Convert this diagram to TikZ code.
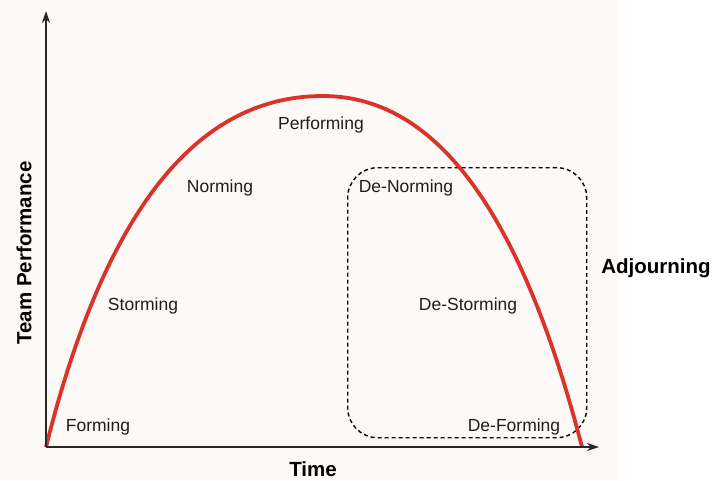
\documentclass[tikz,border=0pt]{standalone}
\usepackage{fontspec}
\setmainfont{Liberation Sans}
\usetikzlibrary{arrows.meta}
\definecolor{curvered}{RGB}{218,52,42}
\definecolor{axisgray}{RGB}{40,40,40}
\definecolor{bgwarm}{RGB}{252,249,247}
\definecolor{txt}{RGB}{30,30,30}
\tikzset{
  axisline/.style={draw=axisgray, line width=1.2pt, -{Stealth[length=12pt,width=8pt]}},
  stagelabel/.style={font=\fontsize{17.5}{20}\selectfont, text=txt, inner sep=0pt},
  boldlabel/.style={font=\bfseries\fontsize{20.5}{24}\selectfont, text=black, inner sep=0pt},
  perfcurve/.style={draw=curvered, line width=3.8pt},
  adjbox/.style={draw=black, line width=1.4pt, dash pattern=on 4pt off 3pt, rounded corners=30pt}
}
\begin{document}
\begin{tikzpicture}[x=1pt,y=-1pt]
\useasboundingbox (0,0) rectangle (717,480);
\fill[white] (0,0) rectangle (717,480);
\fill[bgwarm] (0,0) rectangle (618,480);
% coordinates
\coordinate (origin) at (46,447);
\coordinate (ytip) at (46,11);
\coordinate (xtip) at (599,447);
\coordinate (peak) at (323,96);
\coordinate (curveend) at (582,447);
% dashed box
\node[adjbox, minimum width=239pt, minimum height=270pt, anchor=north west] (box) at (347,167) {};
% curve
\draw[perfcurve] (origin) .. controls (117,162) and (226,96) .. (peak)
  .. controls (430,96) and (518,200) .. (curveend);
% axes
\draw[axisline] (origin) -- (ytip);
\draw[axisline] (origin) -- (xtip);
% labels
\node[stagelabel] (performing) at (321,125) {Performing};
\node[stagelabel] (norming) at (220,188) {Norming};
\node[stagelabel] (storming) at (143,306) {Storming};
\node[stagelabel] (forming) at (98,427) {Forming};
\node[stagelabel] (denorming) at (406,188) {De-Norming};
\node[stagelabel] (destorming) at (468,306) {De-Storming};
\node[stagelabel] (deforming) at (514,427) {De-Forming};
\node[boldlabel] (adjourning) at (656,268) {Adjourning};
\node[boldlabel] (time) at (313,469) {Time};
\node[boldlabel, rotate=90] (teamperf) at (24,253) {Team Performance};
\end{tikzpicture}
\end{document}
